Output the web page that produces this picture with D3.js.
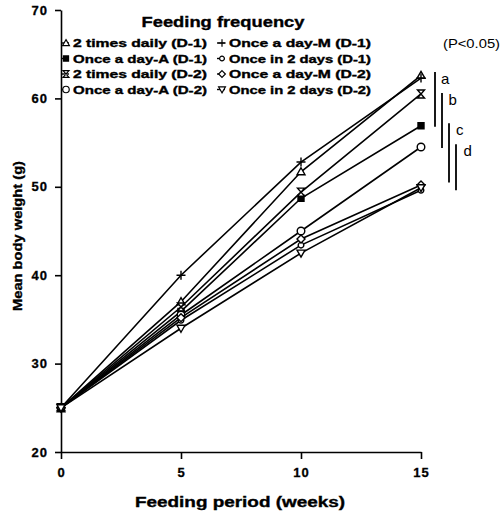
<!DOCTYPE html>
<html lang="en">
<head>
<meta charset="UTF-8">
<title>Mean body weight</title>
<style>
  body { margin: 0; background: #fff; }
  svg { display: block; font-family: "Liberation Sans", Arial, sans-serif; }
  .axis text { font-size: 13px; font-weight: bold; fill: #000; letter-spacing: 1px; stroke: #000; stroke-width: 0.3; }
  .axis path, .axis line { stroke: #000; stroke-width: 1.6; }
  .series path.line { fill: none; stroke: #000; stroke-width: 1.6; }
  .heavy { stroke: #000; stroke-width: 0.35; }
</style>
<script src="https://d3js.org/d3.v7.min.js"></script>
</head>
<body>
<div class="graph"></div>
<script>
// data
const weeks = [0, 5, 10, 15]
const seriesNames = [
  '2 times daily (D-1)', 'Once a day-A (D-1)', '2 times daily (D-2)', 'Once a day-A (D-2)',
  'Once a day-M (D-1)', 'Once in 2 days (D-1)', 'Once a day-M (D-2)', 'Once in 2 days (D-2)'
]
const seriesMarkers = ['triUp', 'square', 'hourglass', 'circle', 'plus', 'smallCircle', 'diamond', 'triDown']
const seriesValues = [
  [25, 37.0, 51.7, 62.6],
  [25, 35.9, 48.7, 56.9],
  [25, 36.4, 49.4, 60.5],
  [25, 35.5, 45.0, 54.5],
  [25, 40.0, 52.8, 62.3],
  [25, 34.9, 43.4, 49.6],
  [25, 35.2, 44.1, 50.2],
  [25, 34.0, 42.5, 49.9]
]
const xTicks = [0, 5, 10, 15]
const yTicks = [20, 30, 40, 50, 60, 70]
// significance groups (range of weights covered by each bar)
const groupLabels = ['a', 'b', 'c', 'd']
const groupRanges = [[63.0, 56.8], [60.6, 54.4], [57.2, 50.5], [54.8, 49.6]]

const width = 501, height = 514

const svg = d3.select('.graph').append('svg')
  .attr('width', width)
  .attr('height', height)

const x = d3.scaleLinear().domain([0, 15]).range([61, 421])
const y = d3.scaleLinear().domain([20, 70]).range([452, 10])

svg.append('g')
  .attr('class', 'axis')
  .attr('transform', `translate(0, ${y(20)})`)
  .call(d3.axisBottom(x).tickValues(xTicks).tickSize(7).tickSizeOuter(0).tickPadding(9))

svg.append('g')
  .attr('class', 'axis')
  .attr('transform', `translate(${x(0)}, 0)`)
  .call(d3.axisLeft(y).tickValues(yTicks).tickSize(6).tickSizeOuter(0).tickPadding(7))

// marker shapes
const markerPath = {
  triUp: 'M0,-4L4,3L-4,3Z',
  triDown: 'M0,4L4,-3L-4,-3Z',
  square: 'M-3,-3H3V3H-3Z',
  hourglass: 'M-3.5,-4H3.5L-3.5,4H3.5Z',
  circle: 'M3.8,0A3.8,3.8 0 1 1 -3.8,0A3.8,3.8 0 1 1 3.8,0Z',
  smallCircle: 'M2.8,0A2.8,2.8 0 1 1 -2.8,0A2.8,2.8 0 1 1 2.8,0Z',
  plus: 'M-4.5,0H4.5M0,-4.5V4.5',
  diamond: 'M0,-4L4,0L0,4L-4,0Z'
}
const markerFill = m => (m === 'square' ? '#000' : '#fff')

const series = seriesNames.map((name, i) => ({
  name, marker: seriesMarkers[i],
  points: weeks.map((w, j) => ({ w, v: seriesValues[i][j] }))
}))

const line = d3.line().x(d => x(d.w)).y(d => y(d.v))

const g = svg.selectAll('.series')
  .data(series)
  .enter().append('g')
  .attr('class', 'series')

g.append('path')
  .attr('class', 'line')
  .attr('d', d => line(d.points))

g.selectAll('.mk')
  .data(d => d.points.map(p => ({ ...p, marker: d.marker })))
  .enter().append('path')
  .attr('class', 'mk')
  .attr('transform', d => `translate(${x(d.w)}, ${y(d.v)})`)
  .attr('d', d => markerPath[d.marker])
  .attr('fill', d => markerFill(d.marker))
  .attr('stroke', '#000')
  .attr('stroke-width', 1.4)

// legend
svg.append('text')
  .attr('class', 'heavy')
  .attr('x', 223).attr('y', 27)
  .attr('text-anchor', 'middle')
  .attr('font-size', 15).attr('font-weight', 'bold')
  .attr('textLength', 163).attr('lengthAdjust', 'spacingAndGlyphs')
  .text('Feeding frequency')

const legend = svg.selectAll('.legend')
  .data(series)
  .enter().append('g')
  .attr('class', 'legend')
  .attr('transform', (d, i) => `translate(${i < 4 ? 66 : 222}, ${43 + (i % 4) * 15.5})`)

legend.append('line')
  .attr('x1', -5).attr('x2', 3)
  .attr('stroke', '#000').attr('stroke-width', 1.4)

legend.append('path')
  .attr('d', d => markerPath[d.marker])
  .attr('transform', 'scale(0.85)')
  .attr('fill', d => markerFill(d.marker))
  .attr('stroke', '#000')
  .attr('stroke-width', 1.4)

legend.append('text')
  .attr('class', 'heavy')
  .attr('x', 7).attr('y', 4)
  .attr('font-size', 10.5).attr('font-weight', 'bold')
  .attr('textLength', (d, i) => i < 4 ? 134 : 142)
  .attr('lengthAdjust', 'spacingAndGlyphs')
  .text(d => d.name)

// significance bars
svg.append('text')
  .attr('x', 443).attr('y', 48)
  .attr('font-size', 12)
  .attr('textLength', 57).attr('lengthAdjust', 'spacingAndGlyphs')
  .text('(P<0.05)')

const sig = svg.selectAll('.sig')
  .data(groupLabels)
  .enter().append('g')
  .attr('class', 'sig')

sig.append('line')
  .attr('x1', (d, i) => x(15) + 14 + i * 7)
  .attr('x2', (d, i) => x(15) + 14 + i * 7)
  .attr('y1', (d, i) => y(groupRanges[i][0]))
  .attr('y2', (d, i) => y(groupRanges[i][1]))
  .attr('stroke', '#000').attr('stroke-width', 1.8)

sig.append('text')
  .attr('x', (d, i) => x(15) + 20 + i * 7.5)
  .attr('y', (d, i) => y(groupRanges[i][0]) + 12)
  .attr('font-size', 15)
  .text(d => d)

// axis titles
svg.append('text')
  .attr('class', 'heavy')
  .attr('x', 240).attr('y', 507)
  .attr('text-anchor', 'middle')
  .attr('font-size', 14).attr('font-weight', 'bold')
  .attr('textLength', 210).attr('lengthAdjust', 'spacingAndGlyphs')
  .text('Feeding period (weeks)')

svg.append('text')
  .attr('class', 'heavy')
  .attr('transform', 'translate(22, 236) rotate(-90)')
  .attr('text-anchor', 'middle')
  .attr('font-size', 13.5).attr('font-weight', 'bold')
  .attr('textLength', 150).attr('lengthAdjust', 'spacingAndGlyphs')
  .text('Mean body weight (g)')
</script>
</body>
</html>
